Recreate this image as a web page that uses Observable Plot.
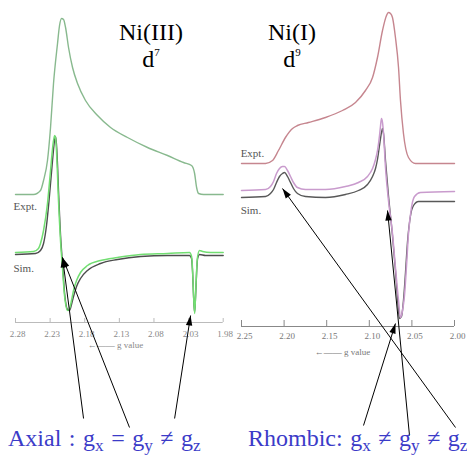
<!DOCTYPE html>
<html><head><meta charset="utf-8">
<script src="https://cdn.jsdelivr.net/npm/d3@7"></script>
<script src="https://cdn.jsdelivr.net/npm/@observablehq/plot@0.6"></script>
<style>
html,body{margin:0;padding:0;background:#fff;}
#fig{position:relative;width:467px;height:458px;overflow:hidden;font-family:"Liberation Serif","Times New Roman",serif;background:#fff;}
#fig svg{position:absolute;left:0;top:0;}
.t{position:absolute;font-size:24px;line-height:24px;white-space:nowrap;color:#000;}
.ttl{font-size:24px;line-height:27px;text-align:center;width:90px;}
.sup{position:relative;top:-11px;font-size:11px;line-height:0;}
.sub{position:relative;top:0.3em;font-size:0.72em;line-height:0;}
.blue{color:#3b3bc8;word-spacing:1.5px;}
</style></head><body><div id="fig"></div>
<script>
// ---------- Left panel: Ni(III) d7 (axial) ----------
const leftTicks = [2.28, 2.23, 2.18, 2.13, 2.08, 2.03, 1.98];
const leftAbsG = [2.2800,2.2540,2.2439,2.2395,2.2338,2.2294,2.2251,2.2193,2.2164,2.2135,2.2106,2.2077,2.2034,2.1976,2.1904,2.1789,2.1615,2.1427,2.1182,2.0893,2.0604,2.0373,2.0257,2.0213,2.0184,2.0155,2.0083,1.9800];
const leftAbsI = [0,0,4,14,34,67,111,151,169,176,175,167,147,127,111,94,79,67,57,47,39,32,29,21,7,1,0,0];
const leftExptG = [2.2800,2.2540,2.2468,2.2439,2.2395,2.2338,2.2294,2.2265,2.2236,2.2222,2.2208,2.2193,2.2179,2.2164,2.2150,2.2135,2.2121,2.2106,2.2092,2.2077,2.2049,2.2020,2.1991,2.1962,2.1918,2.1861,2.1760,2.1572,2.1326,2.0994,2.0604,2.0286,2.0257,2.0242,2.0228,2.0213,2.0199,2.0184,2.0170,2.0141,2.0098,1.9982,1.9800];
const leftExptI = [0,1,4,9,22,49,82,104,117,115,102,77,52,30,12,-3,-16,-31,-43,-51,-58,-56,-48,-38,-28,-20,-13,-8,-5,-2,-1,0,-4,-18,-43,-61,-43,-18,-4,2,1,0,0];
const leftSimG = [2.2800,2.2511,2.2439,2.2395,2.2352,2.2309,2.2265,2.2236,2.2222,2.2208,2.2193,2.2179,2.2164,2.2150,2.2135,2.2121,2.2106,2.2092,2.2077,2.2049,2.2020,2.1991,2.1962,2.1918,2.1861,2.1760,2.1572,2.1326,2.0994,2.0604,2.0286,2.0257,2.0242,2.0228,2.0213,2.0199,2.0184,2.0170,2.0141,2.0055,1.9800];
const leftSimI = [-2,-1,2,9,27,57,92,112,116,108,88,62,38,18,2,-12,-27,-40,-49,-57,-58,-52,-44,-34,-26,-18,-11,-7,-4,-3,-3,-6,-20,-44,-60,-44,-20,-6,-2,-3,-3];

// ---------- Right panel: Ni(I) d9 (rhombic) ----------
const rightTicks = [2.25, 2.20, 2.15, 2.10, 2.05, 2.00];
const rightAbsG = [2.2500,2.2218,2.2136,2.2066,2.1984,2.1901,2.1843,2.1714,2.1514,2.1315,2.1162,2.1045,2.0962,2.0904,2.0845,2.0798,2.0775,2.0751,2.0728,2.0693,2.0657,2.0634,2.0599,2.0540,2.0458,2.0000];
const rightAbsI = [0,0,3,13,26,35,38,41,46,53,61,73,86,106,133,148,151,150,146,126,96,63,30,6,0,0];
const rightExptG = [2.2500,2.2218,2.2160,2.2124,2.2089,2.2054,2.2019,2.1995,2.1960,2.1925,2.1890,2.1843,2.1749,2.1514,2.1280,2.1127,2.1021,2.0962,2.0927,2.0904,2.0880,2.0869,2.0857,2.0845,2.0833,2.0810,2.0775,2.0728,2.0693,2.0657,2.0634,2.0610,2.0587,2.0563,2.0540,2.0505,2.0469,2.0399,2.0000];
const rightExptI = [0,1,4,9,17,22,24,24,20,14,8,3,1,1,4,8,14,22,31,40,55,64,72,68,57,23,-10,-43,-77,-110,-127,-120,-105,-75,-43,-17,-6,-2,-1];
const rightSimG = [2.2500,2.2218,2.2160,2.2124,2.2089,2.2054,2.2019,2.1995,2.1960,2.1925,2.1890,2.1843,2.1749,2.1514,2.1280,2.1127,2.1021,2.0962,2.0927,2.0904,2.0880,2.0857,2.0845,2.0833,2.0810,2.0775,2.0728,2.0693,2.0669,2.0646,2.0622,2.0599,2.0575,2.0552,2.0516,2.0481,2.0422,2.0000];
const rightSimI = [-7,-6,-3,1,8,14,17,18,14,8,2,-3,-6,-7,-4,0,6,14,22,31,45,58,62,57,30,-5,-45,-80,-108,-128,-126,-110,-82,-52,-25,-15,-11,-11];

// ---------- Annotations (head = feature pointed at, tail = caption) ----------
const leftArrowHeadG = [2.2121, 2.2121, 2.0271];
const leftArrowHeadI = [65, 65, 7];
const leftArrowTailG = [2.1817, 2.1153, 2.0502];
const leftArrowTailI = [-96, -105, -96];
const rightArrowHeadG = [2.2019, 2.0786, 2.0693];
const rightArrowHeadI = [138, 116, 3];
const rightArrowTailG = [1.9988, 2.0528, 2.1068];
const rightArrowTailI = [-101, -109, -99];

const traceLabels = ["Expt.", "Sim."];

const headSymbol = {draw(ctx) { ctx.moveTo(0, 0); ctx.lineTo(-3.2, 10); ctx.lineTo(3.2, 10); ctx.closePath(); }};

function rows(G, I, off) { return G.map((g, k) => ({g, v: I[k] + off})); }

function panel(cfg) {
  const sx = Plot.scale({x: {domain: cfg.domain, range: cfg.range}});
  const sy = Plot.scale({y: {domain: cfg.yDomain, range: [458, 0]}});
  const arrows = cfg.headG.map((hg, k) => {
    const hi = cfg.headI[k], tg = cfg.tailG[k], ti = cfg.tailI[k];
    const dx = sx.apply(hg) - sx.apply(tg), dy = sy.apply(hi) - sy.apply(ti);
    return {hg, hi, tg, ti, rot: Math.atan2(dx, -dy) * 180 / Math.PI};
  });
  const marks = [
    Plot.ruleY([{y: 0, x1: cfg.domain[0], x2: cfg.domain[1]}], {y: "y", x1: "x1", x2: "x2", stroke: cfg.axisColor, strokeWidth: 1}),
    Plot.ruleX(cfg.ticks, {x: d => d, y1: 0, y2: cfg.tickLen, stroke: cfg.axisColor, strokeWidth: 1}),
    Plot.text(cfg.ticks, {x: d => d, y: cfg.tickLabelY, dx: cfg.tickDx, text: d => d.toFixed(2), fontSize: 9, fill: cfg.tickColor, fontFamily: "Liberation Serif"}),
    Plot.text([cfg.gLabel], {x: "g", y: "v", text: d => "\u2190\u2014\u2014 g value", fontSize: 9, fill: cfg.tickColor, fontFamily: "Liberation Serif"})
  ];
  for (const tr of cfg.traces) {
    marks.push(Plot.line(rows(tr.G, tr.I, tr.off), {x: "g", y: "v", stroke: tr.color, strokeWidth: tr.w, curve: "monotone-x"}));
  }
  marks.push(Plot.text(cfg.labels, {x: "g", y: "v", text: "t", textAnchor: "start", fontSize: 11, fill: "#555", fontFamily: "Liberation Serif"}));
  marks.push(Plot.link(arrows, {x1: "tg", y1: "ti", x2: "hg", y2: "hi", stroke: "#000", strokeWidth: 1}));
  marks.push(Plot.dot(arrows, {x: "hg", y: "hi", symbol: headSymbol, r: 4, fill: "#000", stroke: "none", rotate: "rot"}));
  return Plot.plot({
    width: 467, height: 458,
    x: {domain: cfg.domain, range: cfg.range, axis: null},
    y: {domain: cfg.yDomain, range: [458, 0], axis: null},
    style: {background: "transparent", overflow: "visible"},
    marks
  });
}

const fig = document.getElementById("fig");

fig.appendChild(panel({
  domain: [2.28, 1.98], range: [15, 222.7], yDomain: [-136, 322],
  ticks: leftTicks, tickLen: 4, tickLabelY: -12, tickDx: 2, axisColor: "#bbb", tickColor: "#888",
  gLabel: {g: 2.1355, v: -23},
  traces: [
    {G: leftAbsG, I: leftAbsI, off: 128, color: "#88b98e", w: 1.4},
    {G: leftSimG, I: leftSimI, off: 70, color: "#4d4d4d", w: 1.4},
    {G: leftExptG, I: leftExptI, off: 70, color: "#72de72", w: 1.5}
  ],
  labels: [{t: traceLabels[0], g: 2.283, v: 116}, {t: traceLabels[1], g: 2.283, v: 54}],
  headG: leftArrowHeadG, headI: leftArrowHeadI, tailG: leftArrowTailG, tailI: leftArrowTailI
}));

fig.appendChild(panel({
  domain: [2.25, 2.00], range: [241, 454], yDomain: [-132, 326],
  ticks: rightTicks, tickLen: 6, tickLabelY: -10, tickDx: 3, axisColor: "#888", tickColor: "#777",
  gLabel: {g: 2.1315, v: -26},
  traces: [
    {G: rightAbsG, I: rightAbsI, off: 163, color: "#c6868f", w: 1.4},
    {G: rightSimG, I: rightSimI, off: 136, color: "#585858", w: 1.4},
    {G: rightExptG, I: rightExptI, off: 136, color: "#c99bcd", w: 1.5}
  ],
  labels: [{t: traceLabels[0], g: 2.251, v: 173}, {t: traceLabels[1], g: 2.251, v: 116}],
  headG: rightArrowHeadG, headI: rightArrowHeadI, tailG: rightArrowTailG, tailI: rightArrowTailI
}));

function addText(html, left, top, cls) {
  const d = document.createElement("div");
  d.className = "t " + (cls || "");
  d.style.left = left + "px"; d.style.top = top + "px";
  d.innerHTML = html;
  fig.appendChild(d);
}
addText('Ni(III)<br>d<span class="sup">7</span>', 106, 18.5, "ttl");
addText('Ni(I)<br>d<span class="sup">9</span>', 247, 18.5, "ttl");
addText('Axial : g<span class="sub">x</span> = g<span class="sub">y</span> \u2260 g<span class="sub">z</span>', 8, 426, "blue");
addText('Rhombic: g<span class="sub">x</span> \u2260 g<span class="sub">y</span> \u2260 g<span class="sub">z</span>', 248, 426, "blue");
</script></body></html>
